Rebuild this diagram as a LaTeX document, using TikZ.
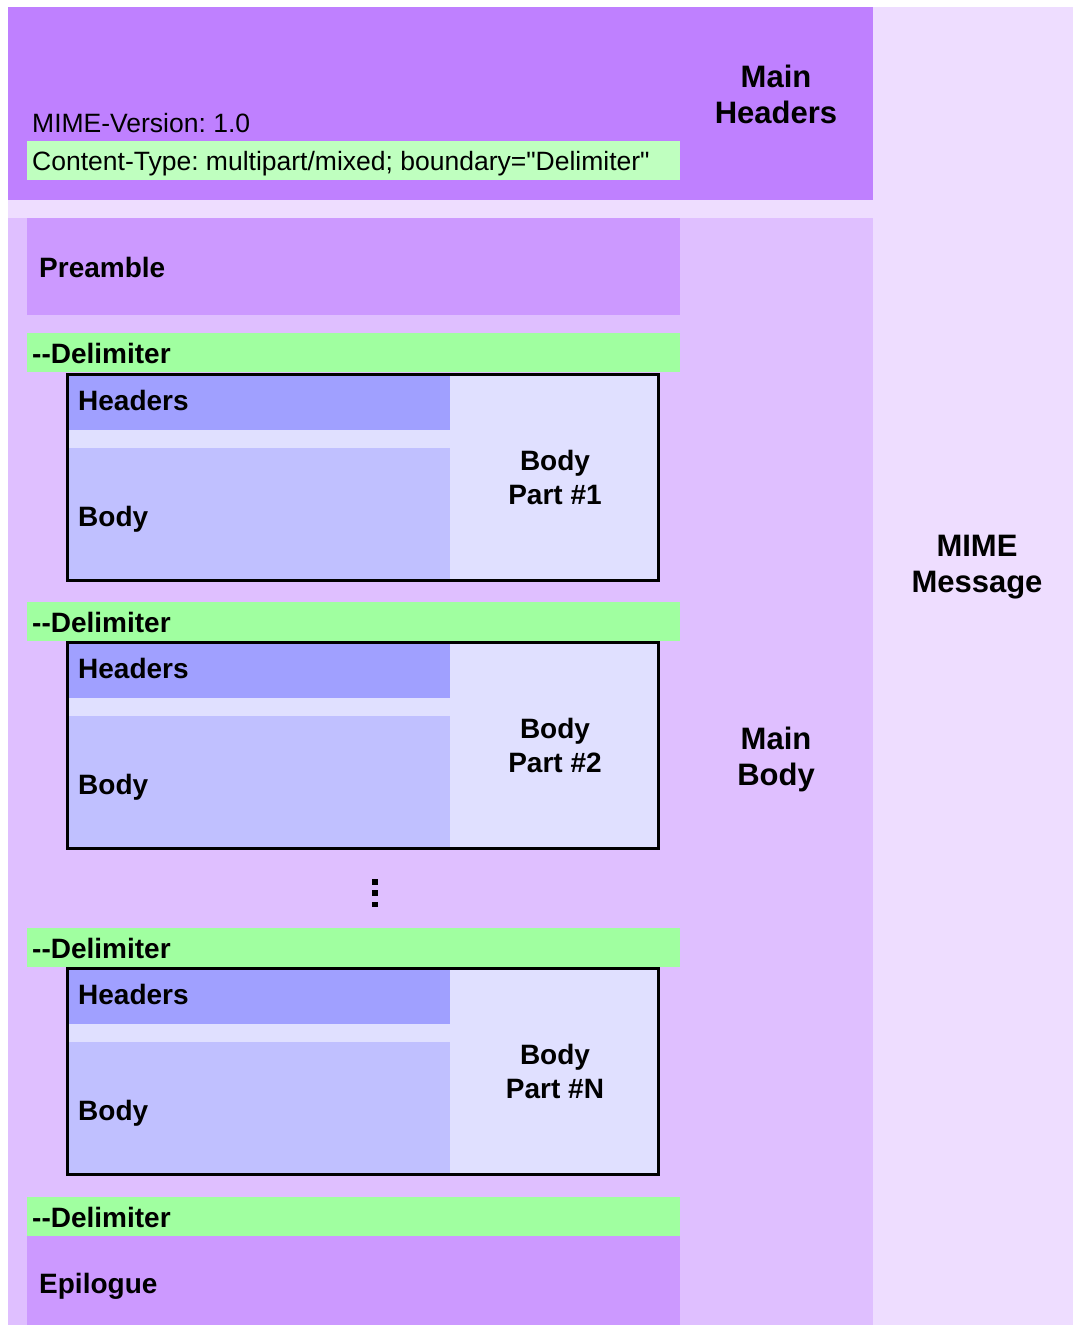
\documentclass[tikz,border=0pt]{standalone}
\usepackage{fontspec}
\setmainfont{Liberation Sans}[Ligatures=TeXOff]
\usepackage{tikz}
\usetikzlibrary{positioning}
\definecolor{msgbg}{RGB}{238,221,255}
\definecolor{mainhdr}{RGB}{191,128,255}
\definecolor{mainbody}{RGB}{223,191,255}
\definecolor{preepi}{RGB}{204,153,255}
\definecolor{delimgreen}{RGB}{160,255,160}
\definecolor{ctgreen}{RGB}{191,255,191}
\definecolor{parthdr}{RGB}{160,160,255}
\definecolor{partbody}{RGB}{192,192,255}
\definecolor{partbg}{RGB}{224,224,255}
\frenchspacing

\begin{document}
\begin{tikzpicture}[x=1pt, y=-1pt,
        plaintext/.style={inner sep=0pt, anchor=base west, font=\fontsize{26.5}{30}\selectfont},
        tag/.style={inner sep=0pt, anchor=base west, font=\fontsize{28}{32}\selectfont\bfseries},
        parttitle/.style={inner sep=0pt, anchor=base, align=center, font=\fontsize{28}{34}\selectfont\bfseries},
        maintitle/.style={inner sep=0pt, anchor=base, align=center, font=\fontsize{31}{36}\selectfont\bfseries},
        partframe/.style={draw=black, line width=3pt}]
        \useasboundingbox (0,0) rectangle (1073,1325);

        % message, main headers, main body
        \fill[msgbg] (8,7) rectangle (1073,1325);
        \fill[mainhdr] (8,7) rectangle (873,200);
        \fill[mainbody] (8,218) rectangle (873,1325);
        \fill[ctgreen] (27,141) rectangle (680,180);
        \fill[preepi] (27,218) rectangle (680,315);
        \fill[preepi] (27,1236) rectangle (680,1325);

        % delimiters
        \fill[delimgreen] (27,333) rectangle (680,372);
        \fill[delimgreen] (27,602) rectangle (680,641);
        \fill[delimgreen] (27,928) rectangle (680,967);
        \fill[delimgreen] (27,1197) rectangle (680,1236);

        % body parts
        \fill[partbg] (66,373) rectangle (660,582);
        \fill[parthdr] (68,376) rectangle (450,430);
        \fill[partbody] (68,448) rectangle (450,579);
        \draw[partframe] (67.5,374.5) rectangle (658.5,580.5);

        \fill[partbg] (66,641) rectangle (660,850);
        \fill[parthdr] (68,644) rectangle (450,698);
        \fill[partbody] (68,716) rectangle (450,847);
        \draw[partframe] (67.5,642.5) rectangle (658.5,848.5);

        \fill[partbg] (66,967) rectangle (660,1176);
        \fill[parthdr] (68,970) rectangle (450,1024);
        \fill[partbody] (68,1042) rectangle (450,1173);
        \draw[partframe] (67.5,968.5) rectangle (658.5,1174.5);

        % dots
        \fill (372,879) rectangle (378,885);
        \fill (372,890) rectangle (378,896);
        \fill (372,902) rectangle (378,907);

        \node[plaintext] (version) at (32,132) {MIME-Version: 1.0};
        \node[plaintext] (ctype) at (32,170) {Content-Type: multipart/mixed; boundary="Delimiter"};
        \node[maintitle] (mainhdrs) at (776,123) {Main\\Headers};
        \node[maintitle] (mainbdy) at (776,785) {Main\\Body};
        \node[maintitle] (message) at (977,592) {MIME\\Message};

        \node[tag] (preamble) at (39,277) {Preamble};
        \node[tag] (epilogue) at (39,1293) {Epilogue};
        \node[tag] (delim1) at (32,363) {--Delimiter};
        \node[tag] (delim2) at (32,632) {--Delimiter};
        \node[tag] (delim3) at (32,958) {--Delimiter};
        \node[tag] (delim4) at (32,1227) {--Delimiter};

        \node[tag] (hdrs1) at (78,410) {Headers};
        \node[tag] (body1) at (78,526) {Body};
        \node[parttitle] (part1) at (555,504) {Body\\Part \#1};
        \node[tag] (hdrs2) at (78,678) {Headers};
        \node[tag] (body2) at (78,794) {Body};
        \node[parttitle] (part2) at (555,772) {Body\\Part \#2};
        \node[tag] (hdrs3) at (78,1004) {Headers};
        \node[tag] (body3) at (78,1120) {Body};
        \node[parttitle] (part3) at (555,1098) {Body\\Part \#N};
      \end{tikzpicture}
\end{document}
